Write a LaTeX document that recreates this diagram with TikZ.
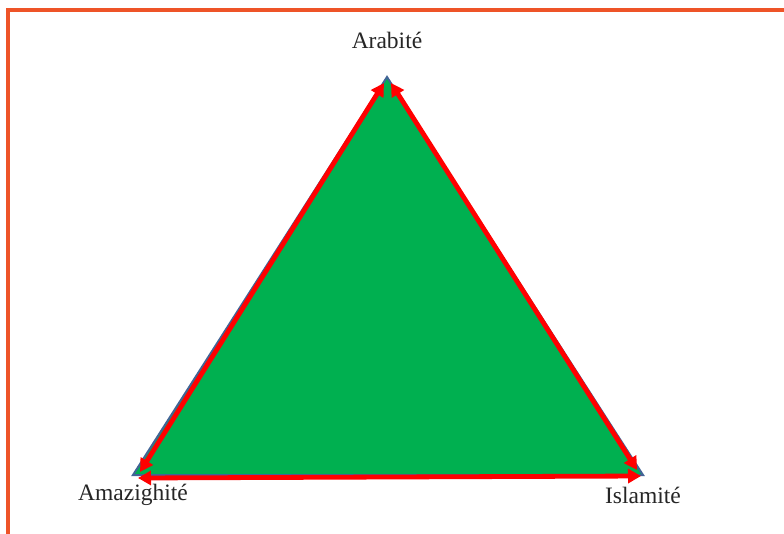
\documentclass[tikz,border=0pt]{standalone}
\usepackage{fontspec}
\setmainfont{Liberation Serif}
\usetikzlibrary{arrows.meta}
\definecolor{frameorange}{RGB}{238,84,40}
\definecolor{trigreen}{RGB}{0,176,80}
\definecolor{edgeblue}{RGB}{65,100,150}
\tikzset{
  lbl/.style={font=\fontsize{23.5}{26}\selectfont, text=black!85, inner sep=0pt},
  redarrow/.style={draw=red, line width=4.8pt, {Triangle[length=13pt,width=14pt]}-{Triangle[length=13pt,width=14pt]}},
}
\begin{document}
\begin{tikzpicture}[x=1pt,y=-1pt]
\useasboundingbox (0,0) rectangle (784,533);
\clip (0,0) rectangle (784,533);
\fill[white] (0,0) rectangle (784,533);
\draw[frameorange, line width=4pt] (8,560) -- (8,10) -- (800,10);
\coordinate (A) at (387,77);
\coordinate (B) at (133,475);
\coordinate (C) at (643,475);
\draw[fill=trigreen, draw=edgeblue, line width=2pt, line join=miter] (A) -- (C) -- (B) -- cycle;
\coordinate (l1) at (140,472);
\coordinate (l2) at (384,83);
\coordinate (r1) at (391,83);
\coordinate (r2) at (637,470);
\coordinate (b1) at (138,478);
\coordinate (b2) at (641,476);
\draw[redarrow] (l1) -- (l2);
\draw[redarrow] (r1) -- (r2);
\draw[redarrow] (b1) -- (b2);
\node[lbl] (arab) at (387,40) {Arabité};
\node[lbl] (amaz) at (133,495) {Amazighité};
\node[lbl] (islam) at (643,495) {Islamité};
\end{tikzpicture}
\end{document}
